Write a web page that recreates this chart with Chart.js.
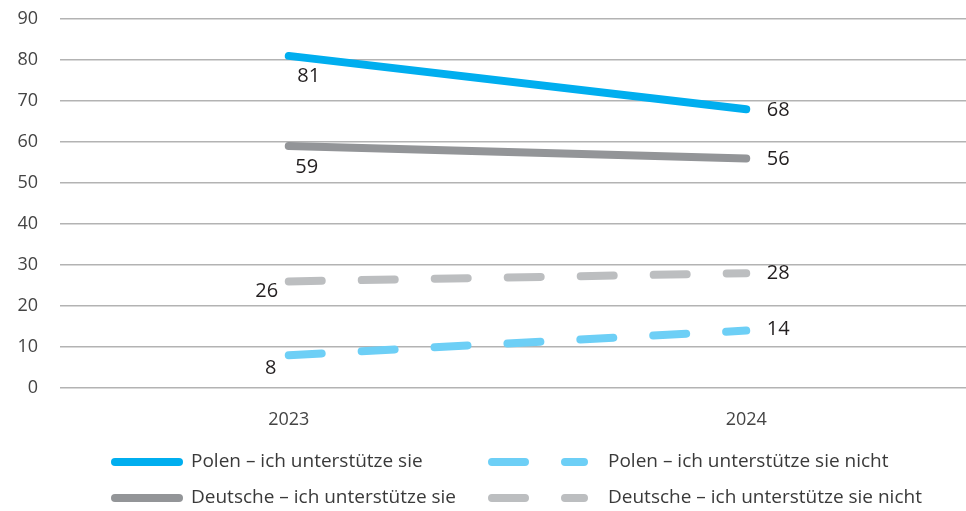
<!DOCTYPE html>
<html>
<head>
<meta charset="utf-8">
<script src="https://cdn.jsdelivr.net/npm/chart.js@4/dist/chart.umd.min.js"></script>
<style>
  html, body { margin: 0; padding: 0; background: #fff; overflow: hidden; }
  #wrap { width: 975px; height: 511px; }
</style>
</head>
<body>
<div id="wrap"><canvas id="chart"></canvas></div>
<script>
// values
var years = ['2023', '2024'];
var polenSie = [81, 68];
var polenNicht = [8, 14];
var deutscheSie = [59, 56];
var deutscheNicht = [26, 28];
var yTicks = [0, 10, 20, 30, 40, 50, 60, 70, 80, 90];

var FONT = "'Open Sans', sans-serif";

// number labels next to the line ends
var valueLabels = {
  id: 'valueLabels',
  afterDatasetsDraw: function(chart, args, opts) {
    var ctx = chart.ctx;
    ctx.save();
    ctx.font = '20px ' + FONT;
    ctx.fillStyle = '#231f20';
    ctx.textBaseline = 'middle';
    ctx.textAlign = 'center';
    chart.data.datasets.forEach(function(ds, i) {
      var meta = chart.getDatasetMeta(i);
      meta.data.forEach(function(pt, j) {
        var off = opts.offsets[i][j];
        ctx.fillText(ds.data[j], pt.x + off[0], pt.y + off[1]);
      });
    });
    ctx.restore();
  }
};

// 2 x 2 legend under the axis
var gridLegend = {
  id: 'gridLegend',
  afterDraw: function(chart, args, opts) {
    var ctx = chart.ctx;
    ctx.save();
    ctx.font = '19px ' + FONT;
    ctx.textBaseline = 'middle';
    chart.data.datasets.forEach(function(ds, i) {
      var col = opts.cols[i % 2];
      var y = opts.rows[Math.floor(i / 2)];
      ctx.beginPath();
      ctx.strokeStyle = ds.borderColor;
      ctx.lineWidth = ds.borderWidth;
      ctx.lineCap = 'round';
      ctx.setLineDash(ds.borderDash || []);
      ctx.moveTo(col.x0, y);
      ctx.lineTo(col.x1, y);
      ctx.stroke();
      ctx.setLineDash([]);
      ctx.fillStyle = '#3a3a3a';
      ctx.fillText(ds.label, col.text, y);
    });
    ctx.restore();
  }
};

new Chart(document.getElementById('chart'), {
  type: 'line',
  data: {
    labels: years,
    datasets: [{
      label: 'Polen – ich unterstütze sie',
      data: polenSie,
      borderColor: '#00aeef',
      borderWidth: 8
    }, {
      label: 'Polen – ich unterstütze sie nicht',
      data: polenNicht,
      borderColor: '#6dcff6',
      borderWidth: 8,
      borderDash: [33, 40]
    }, {
      label: 'Deutsche – ich unterstütze sie',
      data: deutscheSie,
      borderColor: '#939598',
      borderWidth: 8
    }, {
      label: 'Deutsche – ich unterstütze sie nicht',
      data: deutscheNicht,
      borderColor: '#bcbec0',
      borderWidth: 8,
      borderDash: [33, 40]
    }]
  },
  options: {
    responsive: true,
    maintainAspectRatio: false,
    animation: false,
    elements: {
      line: { tension: 0, borderCapStyle: 'round', fill: false },
      point: { radius: 0, hoverRadius: 0 }
    },
    layout: { padding: { top: 19, right: 0, bottom: 73, left: 0 } },
    scales: {
      x: {
        offset: true,
        grid: { display: false },
        border: { display: false },
        ticks: { color: '#444', font: { family: FONT, size: 18 }, padding: 13 },
        afterFit: function(s) { s.height = 50; s.paddingLeft = 0; s.paddingRight = 0; }
      },
      y: {
        min: 0,
        max: 90,
        afterBuildTicks: function(s) { s.ticks = yTicks.map(function(v) { return { value: v }; }); },
        grid: { color: '#b3b3b3', lineWidth: 1.5, drawTicks: false },
        border: { display: false },
        ticks: { color: '#444', font: { family: FONT, size: 18 }, padding: 22 },
        afterFit: function(s) { s.width = 60; s.paddingTop = 0; s.paddingBottom = 0; }
      }
    },
    plugins: {
      legend: { display: false },
      tooltip: { enabled: false },
      valueLabels: {
        offsets: [
          [[20, 20], [32, 1]],
          [[-18, 13], [32, -1]],
          [[18, 21], [32, 1]],
          [[-22, 10], [32, 0]]
        ]
      },
      gridLegend: {
        cols: [{ x0: 115, x1: 179, text: 191 }, { x0: 492, x1: 584, text: 608 }],
        rows: [462, 498]
      }
    }
  },
  plugins: [valueLabels, gridLegend]
});
</script>
</body>
</html>
